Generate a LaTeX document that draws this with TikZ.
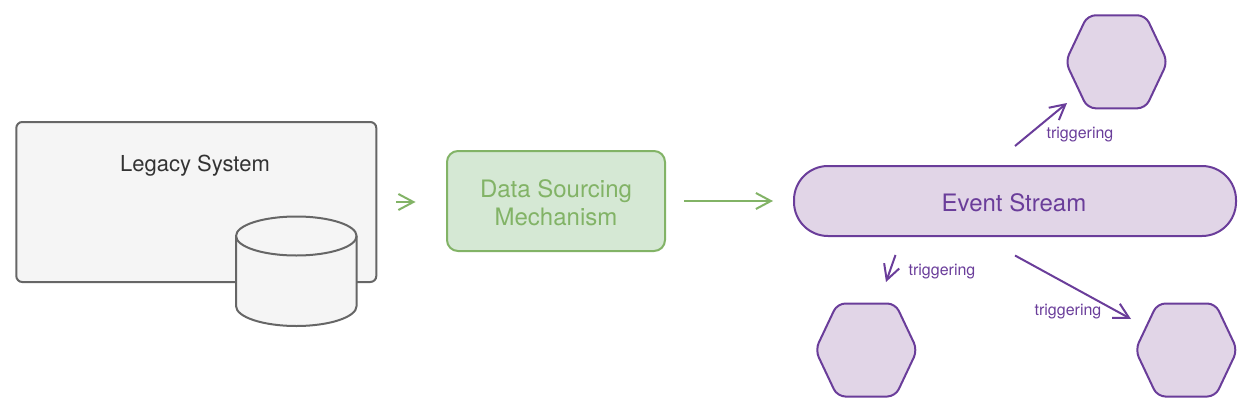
\documentclass[tikz,border=0pt]{standalone}
\usepackage{fontspec}
\setmainfont{TeX Gyre Heros}
\usetikzlibrary{arrows.meta}
\definecolor{grayfill}{HTML}{F5F5F5}
\definecolor{grayline}{HTML}{666666}
\definecolor{grayText}{HTML}{333333}
\definecolor{greenfill}{HTML}{D5E8D4}
\definecolor{greenline}{HTML}{82B366}
\definecolor{purplefill}{HTML}{E1D5E7}
\definecolor{purpleline}{HTML}{6A3D9A}
\tikzset{
  boxbase/.style={rectangle,draw,line width=2pt,inner sep=0pt,outer sep=0pt,align=center},
  legacybox/.style={boxbase,draw=grayline,fill=grayfill,rounded corners=6pt,minimum width=360pt,minimum height=160pt},
  greenbox/.style={boxbase,draw=greenline,fill=greenfill,rounded corners=11pt,minimum width=218pt,minimum height=100pt},
  streambox/.style={boxbase,draw=purpleline,fill=purplefill,rounded corners=34pt,minimum width=442pt,minimum height=70pt},
  hexshape/.style={draw=purpleline,fill=purplefill,line width=2pt,rounded corners=8pt},
  cyl/.style={draw=grayline,fill=grayfill,line width=2pt},
  flow/.style={line width=2pt,-{Straight Barb[length=15pt,width=16pt]}},
  greenflow/.style={flow,draw=greenline},
  purpleflow/.style={flow,draw=purpleline},
  triglabel/.style={text=purpleline,inner sep=0pt,font=\fontsize{16}{19}\selectfont},
  titlelabel/.style={text=grayText,inner sep=0pt,font=\fontsize{22}{26}\selectfont},
  greenlabel/.style={text=greenline,inner sep=0pt,align=center,font=\fontsize{24}{28}\selectfont},
  streamlabel/.style={text=purpleline,inner sep=0pt,font=\fontsize{24}{28}\selectfont},
}
\newcommand{\hexagonat}[2]{\draw[hexshape] (#1-51,#2) -- (#1-29,#2-46.5) -- (#1+29,#2-46.5) -- (#1+51,#2) -- (#1+29,#2+46.5) -- (#1-29,#2+46.5) -- cycle;}
\begin{document}
\begin{tikzpicture}[x=1pt,y=-1pt]
\useasboundingbox (0,0) rectangle (1252,412);
% legacy system
\node[legacybox] (legacy) at (196.3,202) {};
\node[titlelabel] (legacytitle) at (195,165.2) {Legacy System};
% database cylinder
\draw[cyl] (236,236) -- (236,306) arc[start angle=180,end angle=0,x radius=60.3,y radius=20] -- (356.6,236) arc[start angle=0,end angle=-180,x radius=60.3,y radius=19.5] -- cycle;
\draw[cyl,fill=none] (236,236) arc[start angle=180,end angle=0,x radius=60.3,y radius=19.5];
% green box
\node[greenbox] (source) at (556,201) {};
\node[greenlabel] (sourcelabel) at (556,203) {Data Sourcing\\Mechanism};
% stream
\node[streambox] (stream) at (1015,201) {};
\node[streamlabel] (streamtext) at (1014,203) {Event Stream};
% hexagons
\hexagonat{1116.5}{61.8}
\hexagonat{866.3}{350}
\hexagonat{1186.3}{350}
% connector ends
\coordinate (ga) at (396,202);
\coordinate (gb) at (415.5,202);
\coordinate (gc) at (684,201);
\coordinate (gd) at (773,201);
\coordinate (pa) at (1015,146);
\coordinate (pb) at (1067,103);
\coordinate (pc) at (895.5,255);
\coordinate (pd) at (886,282);
\coordinate (pe) at (1015,255.5);
\coordinate (pf) at (1131,319);
\draw[greenflow] (ga) -- (gb);
\draw[greenflow] (gc) -- (gd);
\draw[purpleflow] (pa) -- (pb);
\draw[purpleflow] (pc) -- (pd);
\draw[purpleflow] (pe) -- (pf);
\node[triglabel] (t1) at (1080,135) {triggering};
\node[triglabel] (t2) at (942,271.5) {triggering};
\node[triglabel] (t3) at (1068,311.5) {triggering};
\end{tikzpicture}
\end{document}
